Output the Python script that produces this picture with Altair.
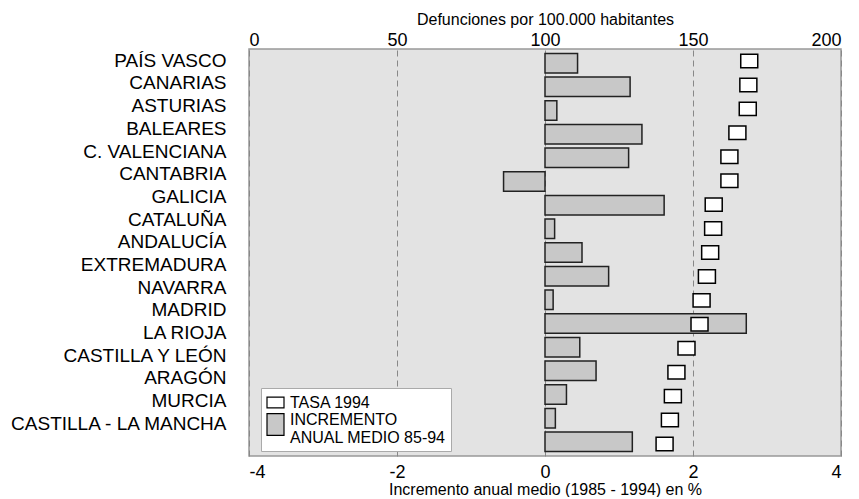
import altair as alt
import pandas as pd

regions = ["PAÍS VASCO", "CANARIAS", "ASTURIAS", "BALEARES", "C. VALENCIANA",
           "CANTABRIA", "GALICIA", "CATALUÑA", "ANDALUCÍA", "EXTREMADURA",
           "NAVARRA", "MADRID", "LA RIOJA", "CASTILLA Y LEÓN", "ARAGÓN",
           "MURCIA", "CASTILLA - LA MANCHA"]
incremento = [0.44, 1.15, 0.16, 1.31, 1.13, -0.56, 1.61, 0.13, 0.50, 0.86,
              0.11, 2.72, 0.47, 0.69, 0.29, 0.14, 1.18]
tasa_1994 = [169.0, 168.7, 168.5, 165.0, 162.3, 162.3, 157.0, 156.8, 155.8,
             154.7, 152.9, 152.2, 147.8, 144.4, 143.2, 142.2, 140.4]

SER_TASA = "TASA 1994"
SER_INC = "INCREMENTO|ANUAL MEDIO 85-94"

df = pd.DataFrame({"region": regions, "inc": incremento, "tasa": tasa_1994})

FONT = "Liberation Sans"
W, H = 592, 407

band_scale = alt.Scale(domain=regions, paddingInner=0.176, paddingOuter=0.188)
fill_scale = alt.Scale(domain=[SER_TASA, SER_INC], range=["#ffffff", "#c8c8c8"])

IS_MULTI = "indexof(datum.value, '|') >= 0"

legend = alt.Legend(
    title=None, orient="none", legendX=12, legendY=339,
    fillColor="#ffffff", strokeColor="#aaaaaa", padding=5,
    symbolType=alt.ExprRef(expr=f"{IS_MULTI} ? 'M-1,-1.28H1V1.28H-1Z' : 'M-1,-0.63H1V0.63H-1Z'"),
    symbolSize=289,
    symbolStrokeColor="#000000", symbolStrokeWidth=1.2,
    labelFont=FONT, labelFontSize=16, labelColor="#000000",
    labelBaseline=alt.ExprRef(expr=f"{IS_MULTI} ? 'alphabetic' : 'middle'"),
    labelExpr="split(datum.label, '|')", labelLimit=400,
    rowPadding=0, labelOffset=5,
)

bars = alt.Chart(df).transform_calculate(
    serie=f"'{SER_INC}'"
).mark_bar(stroke="#222222", strokeWidth=1.5).encode(
    y=alt.Y("region:N", scale=band_scale, sort=regions, axis=None),
    x=alt.X("inc:Q", scale=alt.Scale(domain=[-4, 4], nice=False, zero=True),
            axis=alt.Axis(orient="bottom", values=[-4, -2, 0, 2, 4],
                          labelExpr="'' + datum.value",
                          title="Incremento anual medio (1985 - 1994) en %",
                          grid=True, gridDash=[6, 4], gridColor="#888888",
                          gridWidth=1, domain=False, ticks=False,
                          labelFont=FONT, labelFontSize=18, labelColor="#000000",
                          labelPadding=7, titleFont=FONT, titleFontSize=16,
                          titleFontWeight="normal", titleColor="#000000",
                          titlePadding=0)),
    fill=alt.Fill("serie:N", scale=fill_scale, legend=legend),
)

markers = alt.Chart(df).transform_calculate(
    serie=f"'{SER_TASA}'"
).mark_point(
    shape="M-1,-0.79H1V0.79H-1Z", size=289, filled=True,
    stroke="#000000", strokeWidth=1.5, opacity=1,
).encode(
    y=alt.Y("region:N", scale=band_scale, sort=regions, axis=None),
    x=alt.X("tasa:Q", scale=alt.Scale(domain=[0, 200], nice=False),
            axis=alt.Axis(orient="top", values=[0, 50, 100, 150, 200],
                          title="Defunciones por 100.000 habitantes",
                          grid=False, domain=False, ticks=False,
                          labelFont=FONT, labelFontSize=18, labelColor="#000000",
                          labelPadding=0, titleFont=FONT, titleFontSize=16,
                          titleFontWeight="normal", titleColor="#000000",
                          titlePadding=4)),
    fill=alt.Fill("serie:N", scale=fill_scale, legend=legend),
)

labels = alt.Chart(df).mark_point(opacity=0).encode(
    y=alt.Y("region:N", sort=regions,
            scale=alt.Scale(type="point", domain=regions, range=[11.3, 374.3],
                            padding=0),
            axis=alt.Axis(orient="left", title=None, domain=False, ticks=False,
                          grid=False, labelFont=FONT, labelFontSize=19,
                          labelColor="#000000", labelPadding=23,
                          labelLimit=400)),
)

chart = alt.layer(bars, markers, labels).resolve_scale(
    x="independent", y="independent"
).properties(
    width=W, height=H, background="#ffffff",
    padding={"left": 0, "top": 3, "right": 5, "bottom": 0}
).configure_view(
    fill="#e3e3e3", stroke="#999999", strokeWidth=1.5
)

chart.save("out.html", embed_options={"renderer": "svg", "actions": False})
